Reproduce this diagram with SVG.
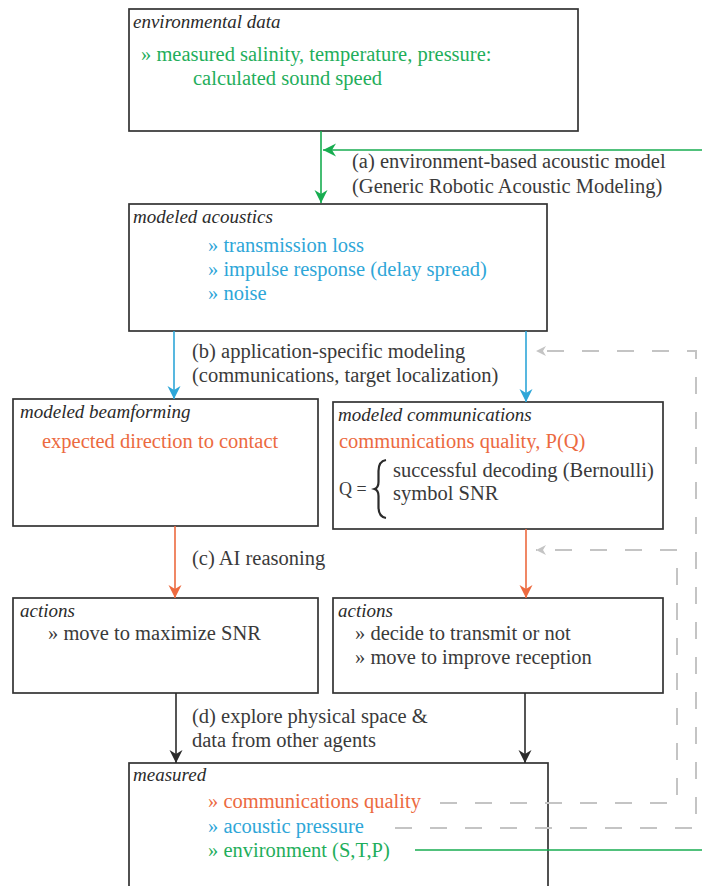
<svg xmlns="http://www.w3.org/2000/svg" width="702" height="886" viewBox="0 0 702 886">
  <style>
    .box { fill: #ffffff; stroke: #333333; stroke-width: 1.7; }
    .ttl { font-family: "Liberation Serif", serif; font-style: italic; font-size: 19px; fill: #2b2b2b; }
    .txt { font-family: "Liberation Serif", serif; font-size: 20.5px; fill: #3a3a3a; }
    .grn { fill: #1fae5b; }
    .blu { fill: #2ea6d8; }
    .org { fill: #ec6a3f; }
    .c-grn { stroke: #17ad50; stroke-width: 1.6; fill: none; }
    .c-blu { stroke: #2ea6d8; stroke-width: 1.6; fill: none; }
    .c-org { stroke: #ec6a3f; stroke-width: 1.6; fill: none; }
    .c-blk { stroke: #2b2b2b; stroke-width: 1.6; fill: none; }
    .c-dash { stroke: #c4c4c4; stroke-width: 2; fill: none; stroke-dasharray: 17 18; }
  </style>
  <defs>
    <marker id="ah-grn" markerUnits="userSpaceOnUse" markerWidth="14" markerHeight="14" refX="13" refY="6.5" orient="auto">
      <path d="M0,0 L13,6.5 L0,13 L4,6.5 z" fill="#17ad50"/>
    </marker>
    <marker id="ah-blu" markerUnits="userSpaceOnUse" markerWidth="14" markerHeight="14" refX="13" refY="6.5" orient="auto">
      <path d="M0,0 L13,6.5 L0,13 L4,6.5 z" fill="#2ea6d8"/>
    </marker>
    <marker id="ah-org" markerUnits="userSpaceOnUse" markerWidth="14" markerHeight="14" refX="13" refY="6.5" orient="auto">
      <path d="M0,0 L13,6.5 L0,13 L4,6.5 z" fill="#ec6a3f"/>
    </marker>
    <marker id="ah-blk" markerUnits="userSpaceOnUse" markerWidth="14" markerHeight="14" refX="13" refY="6.5" orient="auto">
      <path d="M0,0 L13,6.5 L0,13 L4,6.5 z" fill="#2b2b2b"/>
    </marker>
    <marker id="ah-gry" markerUnits="userSpaceOnUse" markerWidth="12" markerHeight="12" refX="10" refY="5" orient="auto">
      <path d="M0,0 L10,5 L0,10 L3,5 z" fill="#c4c4c4"/>
    </marker>
  </defs>

  <g id="environmental-data">
    <rect class="box" x="129" y="9" width="449" height="122"/>
    <text class="ttl" x="133" y="28">environmental data</text>
    <text class="txt grn" x="141" y="61">» measured salinity, temperature, pressure:</text>
    <text class="txt grn" x="193" y="85">calculated sound speed</text>
  </g>

  <g id="modeled-acoustics">
    <rect class="box" x="129" y="204" width="418" height="127"/>
    <text class="ttl" x="133" y="223">modeled acoustics</text>
    <text class="txt blu" x="208" y="252">» transmission loss</text>
    <text class="txt blu" x="208" y="276">» impulse response (delay spread)</text>
    <text class="txt blu" x="208" y="300">» noise</text>
  </g>

  <g id="modeled-beamforming">
    <rect class="box" x="13" y="399" width="305" height="127"/>
    <text class="ttl" x="20" y="418">modeled beamforming</text>
    <text class="txt org" x="42" y="448">expected direction to contact</text>
  </g>

  <g id="modeled-communications">
    <rect class="box" x="333" y="402" width="330" height="127"/>
    <text class="ttl" x="338" y="421">modeled communications</text>
    <text class="txt org" x="339" y="448">communications quality, P(Q)</text>
    <text class="txt" x="339" y="495" style="font-size:18px">Q =</text>
    <path d="M386,460 C380,461 378.5,465 378.5,471 L378.5,482 C378.5,486 377.5,488 374.5,489 C377.5,490 378.5,492 378.5,496 L378.5,507 C378.5,513 380,517 386,518" fill="none" stroke="#2b2b2b" stroke-width="2.2"/>
    <text class="txt" x="393" y="477">successful decoding (Bernoulli)</text>
    <text class="txt" x="393" y="500">symbol SNR</text>
  </g>

  <g id="actions-beamforming">
    <rect class="box" x="13" y="598" width="305" height="95"/>
    <text class="ttl" x="20" y="617">actions</text>
    <text class="txt" x="48" y="640">» move to maximize SNR</text>
  </g>

  <g id="actions-communications">
    <rect class="box" x="333" y="598" width="330" height="95"/>
    <text class="ttl" x="338" y="617">actions</text>
    <text class="txt" x="355" y="640">» decide to transmit or not</text>
    <text class="txt" x="355" y="664">» move to improve reception</text>
  </g>

  <g id="measured">
    <rect class="box" x="129" y="763" width="419" height="140"/>
    <text class="ttl" x="133" y="781">measured</text>
    <text class="txt org" x="208" y="808">» communications quality</text>
    <text class="txt blu" x="208" y="833">» acoustic pressure</text>
    <text class="txt grn" x="208" y="857">» environment (S,T,P)</text>
  </g>

  <!-- connectors, drawn last so feedback lines run over the box outlines -->
  <g id="connectors">
    <path class="c-grn" d="M321,131 V203" marker-end="url(#ah-grn)"/>
    <path class="c-grn" d="M702,150 H323" marker-end="url(#ah-grn)"/>
    <path class="c-blu" d="M174,331 V399" marker-end="url(#ah-blu)"/>
    <path class="c-blu" d="M526,331 V402" marker-end="url(#ah-blu)"/>
    <path class="c-org" d="M175,526 V598" marker-end="url(#ah-org)"/>
    <path class="c-org" d="M526,529 V598" marker-end="url(#ah-org)"/>
    <path class="c-blk" d="M176,693 V763" marker-end="url(#ah-blk)"/>
    <path class="c-blk" d="M525,693 V763" marker-end="url(#ah-blk)"/>
    <path class="c-dash" d="M395,828 H696 V351 H536" marker-end="url(#ah-gry)"/>
    <path class="c-dash" d="M440,803 H677 V550 H536" marker-end="url(#ah-gry)"/>
    <path class="c-grn" d="M415,850 H702"/>
    <text class="txt" x="352" y="168">(a) environment-based acoustic model</text>
    <text class="txt" x="352" y="193">(Generic Robotic Acoustic Modeling)</text>
    <text class="txt" x="192" y="358">(b) application-specific modeling</text>
    <text class="txt" x="192" y="382">(communications, target localization)</text>
    <text class="txt" x="192" y="565">(c) AI reasoning</text>
    <text class="txt" x="192" y="723">(d) explore physical space &amp;</text>
    <text class="txt" x="192" y="747">data from other agents</text>
  </g>
</svg>
